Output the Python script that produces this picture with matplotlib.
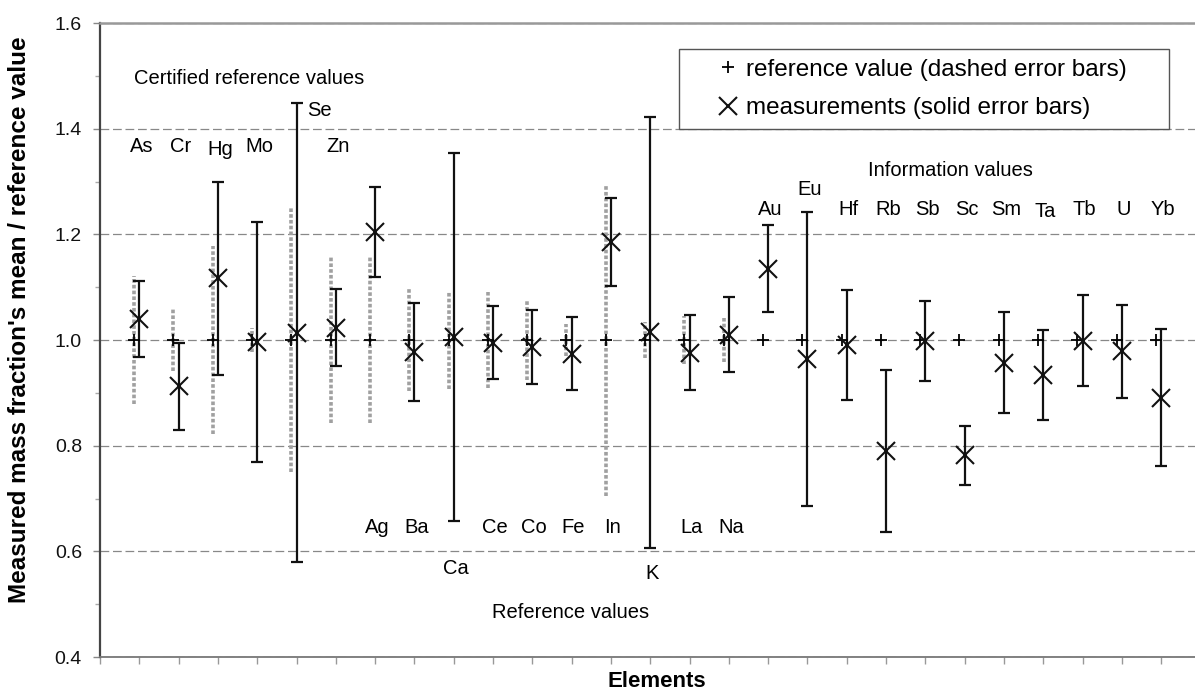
import matplotlib
matplotlib.use('Agg')
import matplotlib.pyplot as plt
from matplotlib.lines import Line2D
import numpy as np

plt.rcParams['font.family'] = ['Liberation Sans', 'DejaVu Sans']

# Elements in plot order
certified = ['As', 'Cr', 'Hg', 'Mo', 'Se', 'Zn']
reference = ['Ag', 'Ba', 'Ca', 'Ce', 'Co', 'Fe', 'In', 'K', 'La', 'Na']
information = ['Au', 'Eu', 'Hf', 'Rb', 'Sb', 'Sc', 'Sm', 'Ta', 'Tb', 'U', 'Yb']
elements = certified + reference + information

# measured mean / reference value and its uncertainty (solid bars)
measured = [1.039, 0.912, 1.117, 0.997, 1.014, 1.023,
            1.205, 0.977, 1.006, 0.995, 0.987, 0.974, 1.185, 1.015, 0.976, 1.010,
            1.135, 0.964, 0.991, 0.790, 0.998, 0.782, 0.957, 0.933, 0.999, 0.979, 0.891]
measured_unc = [0.072, 0.083, 0.183, 0.227, 0.435, 0.073,
                0.085, 0.093, 0.348, 0.069, 0.070, 0.069, 0.083, 0.408, 0.071, 0.071,
                0.082, 0.278, 0.104, 0.154, 0.075, 0.056, 0.096, 0.085, 0.086, 0.088, 0.129]

# reference value (always 1) and its relative uncertainty (dashed bars)
ref_value = [1.0] * len(elements)
ref_unc = [0.122, 0.058, 0.177, 0.023, 0.250, 0.157,
           0.157, 0.097, 0.093, 0.091, 0.075, 0.030, 0.295, 0.035, 0.045, 0.042,
           0, 0, 0, 0, 0, 0, 0, 0, 0, 0, 0]

# label heights (layout only)
label_y = {'As': 1.355, 'Cr': 1.355, 'Hg': 1.351, 'Mo': 1.355, 'Se': 1.4245, 'Zn': 1.355,
           'Ca': 0.557, 'K': 0.548, 'Eu': 1.275, 'Ta': 1.232}
group_label_y = {'certified': 1.355, 'reference': 0.635, 'information': 1.236}

x = np.arange(1, len(elements) + 1)

fig = plt.figure(figsize=(11.95, 6.91), dpi=100)
ax = fig.add_axes([100 / 1195, 1 - 657 / 691, 1 - 100 / 1195, 634 / 691])

# reference values with dashed (dotted grey) bars
ref_x = x - 0.13
has_unc = np.array(ref_unc) > 0
ax.errorbar(ref_x[has_unc], np.array(ref_value)[has_unc], yerr=np.array(ref_unc)[has_unc],
            fmt='none', ecolor='#a0a0a0', elinewidth=2.6, capsize=0, zorder=2)
ax.collections[-1].set_linestyle((0, (1, 0.6)))
ax.plot(ref_x, ref_value, ls='none', marker='+', ms=8, mew=1.3, color='black', zorder=4)

# measurements with solid bars
ax.errorbar(x, measured, yerr=measured_unc, fmt='none', ecolor='#111111',
            elinewidth=1.6, capsize=4.6, capthick=1.6, zorder=3)
ax.plot(x, measured, ls='none', marker='x', ms=13, mew=1.5, color='#111111', zorder=5)

# element labels
for i, el in enumerate(elements):
    if el in certified:
        y = label_y.get(el, group_label_y['certified'])
    elif el in reference:
        y = label_y.get(el, group_label_y['reference'])
    else:
        y = label_y.get(el, group_label_y['information'])
    if el == 'Se':
        ax.text(x[i] + 0.27, y, el, ha='left', va='baseline', fontsize=14.5)
    else:
        ax.text(x[i] + 0.05, y, el, ha='center', va='baseline', fontsize=14.5)

ax.text(0.875, 1.484, 'Certified reference values', ha='left', va='baseline', fontsize=14.5)
ax.text(9.98, 0.473, 'Reference values', ha='left', va='baseline', fontsize=14.5)
ax.text(19.55, 1.311, 'Information values', ha='left', va='baseline', fontsize=14.5)

# axes styling
ax.set_xlim(0, 1095 / 39.3)
ax.set_ylim(0.4, 1.6)
ax.set_yticks(np.arange(0.4, 1.61, 0.2))
ax.set_yticks(np.arange(0.5, 1.6, 0.2), minor=True)
ax.set_yticklabels(['%.1f' % v for v in np.arange(0.4, 1.61, 0.2)])
ax.set_xticks(np.arange(0, len(elements) + 1))
ax.set_xticklabels([])
ax.tick_params(axis='y', which='major', length=5, width=1, color='#888888', pad=8,
               labelsize=14, labelcolor='#111111')
ax.tick_params(axis='y', which='minor', length=3.5, width=1, color='#aaaaaa')
ax.tick_params(axis='x', length=5, width=1, color='#999999')
ax.grid(axis='y', which='major', color='#888888', lw=0.9, ls=(0, (7, 3)))
ax.set_axisbelow(True)

ax.spines['right'].set_visible(False)
ax.spines['left'].set_color('#444444')
ax.spines['left'].set_linewidth(1.6)
ax.spines['bottom'].set_color('#777777')
ax.spines['bottom'].set_linewidth(1.3)
ax.spines['top'].set_color('#999999')
ax.spines['top'].set_linewidth(1.8)

ax.set_ylabel("Measured mass fraction's mean / reference value", fontsize=17.5, fontweight='bold')
ax.yaxis.set_label_coords(-0.063, 0.5315)
ax.set_xlabel('Elements', fontsize=16, fontweight='bold')
ax.xaxis.set_label_coords(0.5087, -0.022)

handles = [Line2D([], [], ls='none', marker='+', ms=8, mew=1.3, color='black'),
           Line2D([], [], ls='none', marker='x', ms=13, mew=1.5, color='#111111')]
leg = ax.legend(handles, ['reference value (dashed error bars)', 'measurements (solid error bars)'],
                loc='upper left', mode='expand',
                bbox_to_anchor=(679 / 1195, 1 - 130 / 691, 490 / 1195, 81 / 691),
                bbox_transform=fig.transFigure, borderaxespad=0, borderpad=0.4,
                handlelength=3.2, handletextpad=-0.85, labelspacing=0.68,
                fontsize=17.5, fancybox=False, framealpha=1, edgecolor='#555555')
leg.get_frame().set_linewidth(1.0)

fig.savefig('out.png', dpi=100)
